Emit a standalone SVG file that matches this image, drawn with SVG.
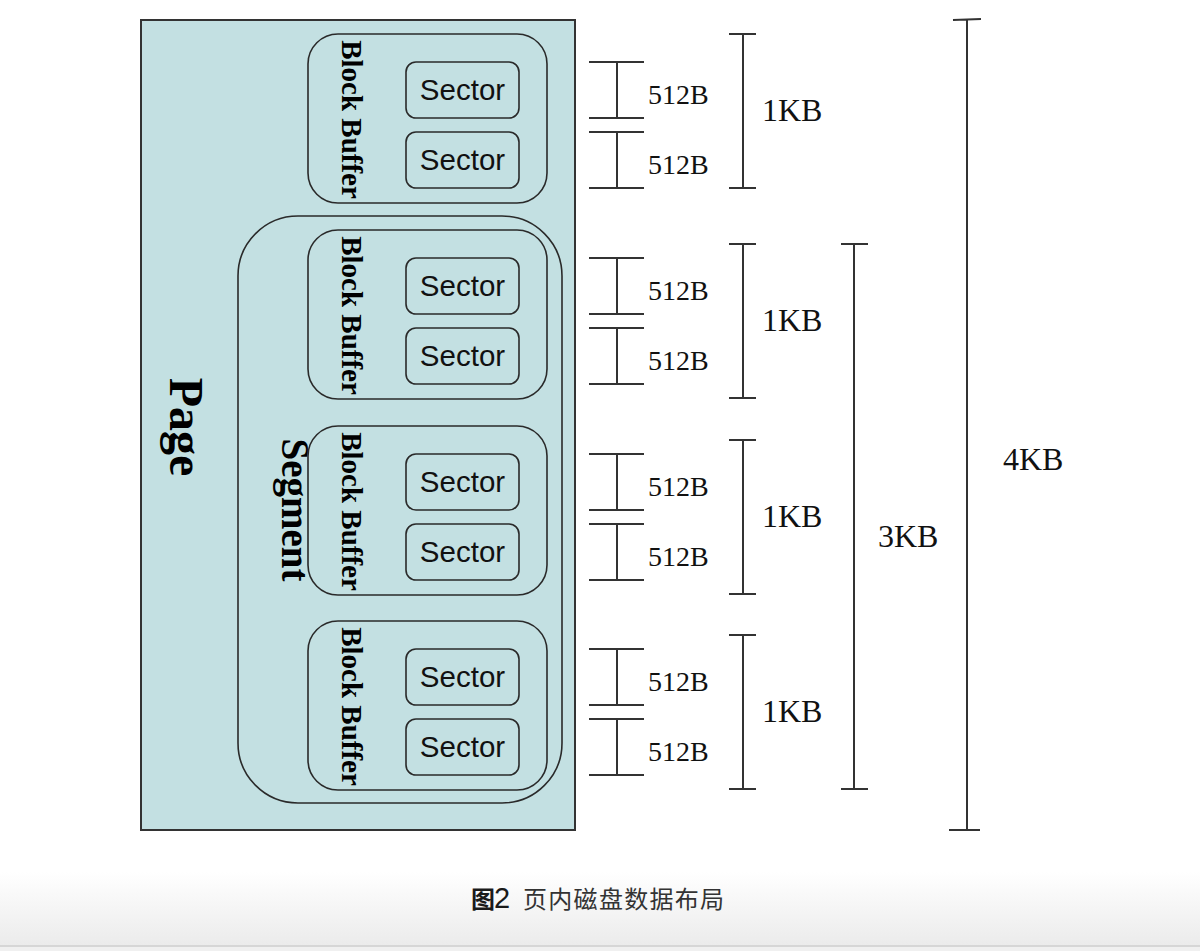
<svg xmlns="http://www.w3.org/2000/svg" width="1200" height="951" viewBox="0 0 1200 951">
<defs>
<linearGradient id="bg" x1="0" y1="0" x2="0" y2="1">
<stop offset="0" stop-color="#ffffff"/>
<stop offset="1" stop-color="#ebebeb"/>
</linearGradient>
</defs>
<style>
.box{fill:none;stroke:#2a2a2a;stroke-width:1.6}
.ln{stroke:#333;stroke-width:2;fill:none}
.serifB{font-family:"Liberation Serif","Times New Roman",serif;font-weight:bold;fill:#000}
.sec{font-family:"Liberation Sans",Arial,sans-serif;font-size:29.5px;fill:#111;text-anchor:middle}
.lab{font-family:"Liberation Serif","Times New Roman",serif;fill:#111}
.cap{font-family:"Noto Sans CJK SC","Liberation Sans",sans-serif;font-size:24px;fill:#333}
</style>
<rect x="0" y="0" width="1200" height="951" fill="#ffffff"/>
<rect x="0" y="872" width="1200" height="74" fill="url(#bg)"/>
<rect x="0" y="945" width="1200" height="2" fill="#d6d6d6"/>
<rect x="0" y="947" width="1200" height="4" fill="#f0f0f0"/>

<g id="page">
<rect x="141" y="20" width="434" height="810" fill="#c3e0e2" stroke="#333" stroke-width="2"/>
<text class="serifB" font-size="48" text-anchor="middle" transform="translate(170,427) rotate(90)">Page</text>
</g>

<g id="segment">
<rect class="box" x="238" y="216" width="324" height="587" rx="60"/>
<text class="serifB" font-size="39" text-anchor="middle" transform="translate(282,510) rotate(90)">Segment</text>
</g>

<g id="bb1">
<rect class="box" x="308" y="34" width="239" height="169" rx="30"/>
<text class="serifB" font-size="29" text-anchor="middle" transform="translate(342,119.5) rotate(90)">Block Buffer</text>
<rect class="box" x="406" y="62" width="113" height="56" rx="10"/>
<text class="sec" x="462.5" y="99.5">Sector</text>
<rect class="box" x="406" y="132" width="113" height="56" rx="10"/>
<text class="sec" x="462.5" y="169.5">Sector</text>
</g>

<g id="bb2">
<rect class="box" x="308" y="230" width="239" height="169" rx="30"/>
<text class="serifB" font-size="29" text-anchor="middle" transform="translate(342,315.5) rotate(90)">Block Buffer</text>
<rect class="box" x="406" y="258" width="113" height="56" rx="10"/>
<text class="sec" x="462.5" y="295.5">Sector</text>
<rect class="box" x="406" y="328" width="113" height="56" rx="10"/>
<text class="sec" x="462.5" y="365.5">Sector</text>
</g>

<g id="bb3">
<rect class="box" x="308" y="426" width="239" height="169" rx="30"/>
<text class="serifB" font-size="29" text-anchor="middle" transform="translate(342,511.5) rotate(90)">Block Buffer</text>
<rect class="box" x="406" y="454" width="113" height="56" rx="10"/>
<text class="sec" x="462.5" y="491.5">Sector</text>
<rect class="box" x="406" y="524" width="113" height="56" rx="10"/>
<text class="sec" x="462.5" y="561.5">Sector</text>
</g>

<g id="bb4">
<rect class="box" x="308" y="621" width="239" height="169" rx="30"/>
<text class="serifB" font-size="29" text-anchor="middle" transform="translate(342,706.5) rotate(90)">Block Buffer</text>
<rect class="box" x="406" y="649" width="113" height="56" rx="10"/>
<text class="sec" x="462.5" y="686.5">Sector</text>
<rect class="box" x="406" y="719" width="113" height="56" rx="10"/>
<text class="sec" x="462.5" y="756.5">Sector</text>
</g>

<g id="connectors">
<path class="ln" d="M589 62H644M617 62V118M589 118H644M589 132H644M617 132V188M589 188H644"/>
<path class="ln" d="M589 258H644M617 258V314M589 314H644M589 328H644M617 328V384M589 384H644"/>
<path class="ln" d="M589 454H644M617 454V510M589 510H644M589 524H644M617 524V580M589 580H644"/>
<path class="ln" d="M589 649H644M617 649V705M589 705H644M589 719H644M617 719V775M589 775H644"/>
<path class="ln" d="M729 34H756M743 34V188M729 188H756"/>
<path class="ln" d="M729 244H756M743 244V398M729 398H756"/>
<path class="ln" d="M729 440H756M743 440V594M729 594H756"/>
<path class="ln" d="M729 635H756M743 635V789M729 789H756"/>
<path class="ln" d="M841 244H868M854 244V789M841 789H868"/>
<path class="ln" d="M953 20L981 19M967 19V830M949 830H980"/>
</g>

<g id="labels">
<text class="lab" font-size="28" x="648" y="104">512B</text>
<text class="lab" font-size="28" x="648" y="174">512B</text>
<text class="lab" font-size="28" x="648" y="300">512B</text>
<text class="lab" font-size="28" x="648" y="370">512B</text>
<text class="lab" font-size="28" x="648" y="496">512B</text>
<text class="lab" font-size="28" x="648" y="566">512B</text>
<text class="lab" font-size="28" x="648" y="691">512B</text>
<text class="lab" font-size="28" x="648" y="761">512B</text>
<text class="lab" font-size="32" x="762" y="121">1KB</text>
<text class="lab" font-size="32" x="762" y="331">1KB</text>
<text class="lab" font-size="32" x="762" y="527">1KB</text>
<text class="lab" font-size="32" x="762" y="722">1KB</text>
<text class="lab" font-size="32" x="878" y="547">3KB</text>
<text class="lab" font-size="32" x="1003" y="470">4KB</text>
</g>

<g id="caption">
<text class="cap" y="908"><tspan x="471" font-weight="bold" fill="#1a1a1a">图</tspan><tspan x="494" font-size="29" font-family="'Liberation Sans',sans-serif" fill="#1a1a1a">2</tspan><tspan x="523" letter-spacing="1.3">页内磁盘数据布局</tspan></text>
</g>
</svg>
